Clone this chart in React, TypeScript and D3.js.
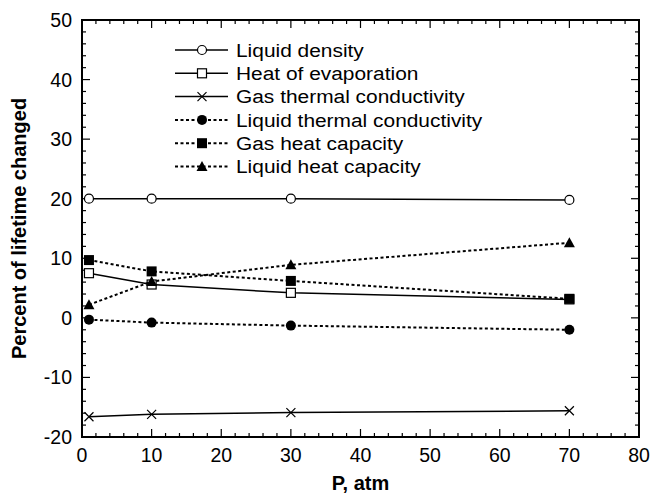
import React from "react";
import * as d3 from "d3";

const pressures = [1, 10, 30, 70];
const liquidDensity = [20, 20, 20, 19.8];
const heatOfEvaporation = [7.5, 5.6, 4.2, 3.1];
const gasThermalConductivity = [-16.6, -16.2, -15.9, -15.6];
const liquidThermalConductivity = [-0.3, -0.8, -1.3, -2.0];
const gasHeatCapacity = [9.7, 7.8, 6.2, 3.2];
const liquidHeatCapacity = [2.2, 6.1, 8.9, 12.6];

const seriesNames = [
  "Liquid density",
  "Heat of evaporation",
  "Gas thermal conductivity",
  "Liquid thermal conductivity",
  "Gas heat capacity",
  "Liquid heat capacity",
];
const seriesValues = [
  liquidDensity,
  heatOfEvaporation,
  gasThermalConductivity,
  liquidThermalConductivity,
  gasHeatCapacity,
  liquidHeatCapacity,
];
const seriesMarkers = ["openCircle", "openSquare", "cross", "filledCircle", "filledSquare", "filledTriangle"];
const seriesDashed = [false, false, false, true, true, true];

const xTicks = [0, 10, 20, 30, 40, 50, 60, 70, 80];
const yTicks = [-20, -10, 0, 10, 20, 30, 40, 50];

const FONT = "'Liberation Sans', Arial, Helvetica, sans-serif";

function Marker({ type, x, y }: { type: string; x: number; y: number }) {
  switch (type) {
    case "openCircle":
      return <circle cx={x} cy={y} r={4.5} fill="white" stroke="black" strokeWidth={1.2} />;
    case "openSquare":
      return <rect x={x - 4.5} y={y - 4.5} width={9} height={9} fill="white" stroke="black" strokeWidth={1.2} />;
    case "cross":
      return (
        <path d={`M${x - 4.5},${y - 4.5}L${x + 4.5},${y + 4.5}M${x - 4.5},${y + 4.5}L${x + 4.5},${y - 4.5}`} stroke="black" strokeWidth={1.2} />
      );
    case "filledCircle":
      return <circle cx={x} cy={y} r={5} fill="black" />;
    case "filledSquare":
      return <rect x={x - 5} y={y - 5} width={10} height={10} fill="black" />;
    case "filledTriangle":
      return <path d={`M${x},${y - 5.5}L${x + 5.5},${y + 4.5}L${x - 5.5},${y + 4.5}Z`} fill="black" />;
  }
  return null;
}

export default function App() {
  const left = 82, right = 639, top = 20, bottom = 437;
  const x = d3.scaleLinear().domain([0, 80]).range([left, right]);
  const y = d3.scaleLinear().domain([-20, 50]).range([bottom, top]);
  const line = d3.line<number>().x((_, i) => x(pressures[i])).y((d) => y(d));

  const xMinor = d3.range(0, 81, 2);
  const yMinor = d3.range(-20, 51, 2);

  const legendX0 = 175, legendX1 = 228, legendMx = 202, legendTx = 236;
  const legendY0 = 50, legendDy = 23.3;

  return (
    <svg width={658} height={497} style={{ position: "absolute", left: 0, top: 0, background: "white" }} fontFamily={FONT}>
      <rect x={0} y={0} width={658} height={497} fill="white" />
      {/* ticks */}
      {xMinor.map((v) => {
        const major = v % 10 === 0;
        const len = major ? 8 : 4;
        return (
          <g key={"xt" + v}>
            <line x1={x(v)} x2={x(v)} y1={bottom} y2={bottom - len} stroke="black" strokeWidth={1.2} />
            <line x1={x(v)} x2={x(v)} y1={top} y2={top + len} stroke="black" strokeWidth={1.2} />
          </g>
        );
      })}
      {yMinor.map((v) => {
        const major = v % 10 === 0;
        const len = major ? 8 : 4;
        return (
          <g key={"yt" + v}>
            <line x1={left} x2={left + len} y1={y(v)} y2={y(v)} stroke="black" strokeWidth={1.2} />
            <line x1={right} x2={right - len} y1={y(v)} y2={y(v)} stroke="black" strokeWidth={1.2} />
          </g>
        );
      })}
      <rect x={left} y={top} width={right - left} height={bottom - top} fill="none" stroke="black" strokeWidth={2} />
      {/* tick labels */}
      {xTicks.map((v) => (
        <text key={"xl" + v} x={x(v)} y={462} textAnchor="middle" fontSize={19.5}>
          {v}
        </text>
      ))}
      {yTicks.map((v) => (
        <text key={"yl" + v} x={72} y={y(v)} dy="0.36em" textAnchor="end" fontSize={19.5}>
          {v}
        </text>
      ))}
      {/* axis titles */}
      <text x={(left + right) / 2} y={490} textAnchor="middle" fontSize={20} fontWeight="bold">
        P, atm
      </text>
      <text
        transform={`translate(26, ${(top + bottom) / 2}) rotate(-90)`}
        textAnchor="middle"
        fontSize={20}
        fontWeight="bold"
      >
        Percent of lifetime changed
      </text>
      {/* series */}
      {seriesValues.map((vals, si) => (
        <g key={"s" + si}>
          <path
            d={line(vals) || ""}
            fill="none"
            stroke="black"
            strokeWidth={seriesDashed[si] ? 2 : 1.5}
            strokeDasharray={seriesDashed[si] ? "3,2.5" : undefined}
          />
          {vals.map((v, i) => (
            <Marker key={i} type={seriesMarkers[si]} x={x(pressures[i])} y={y(v)} />
          ))}
        </g>
      ))}
      {/* legend */}
      {seriesNames.map((name, si) => {
        const ly = legendY0 + si * legendDy;
        return (
          <g key={"lg" + si}>
            <line
              x1={legendX0}
              x2={legendX1}
              y1={ly}
              y2={ly}
              stroke="black"
              strokeWidth={seriesDashed[si] ? 2 : 1.5}
              strokeDasharray={seriesDashed[si] ? "3,2.5" : undefined}
            />
            <Marker type={seriesMarkers[si]} x={legendMx} y={ly} />
            <text transform={`translate(${legendTx}, ${ly}) scale(1.1,1)`} dy="0.36em" fontSize={19}>
              {name}
            </text>
          </g>
        );
      })}
    </svg>
  );
}
